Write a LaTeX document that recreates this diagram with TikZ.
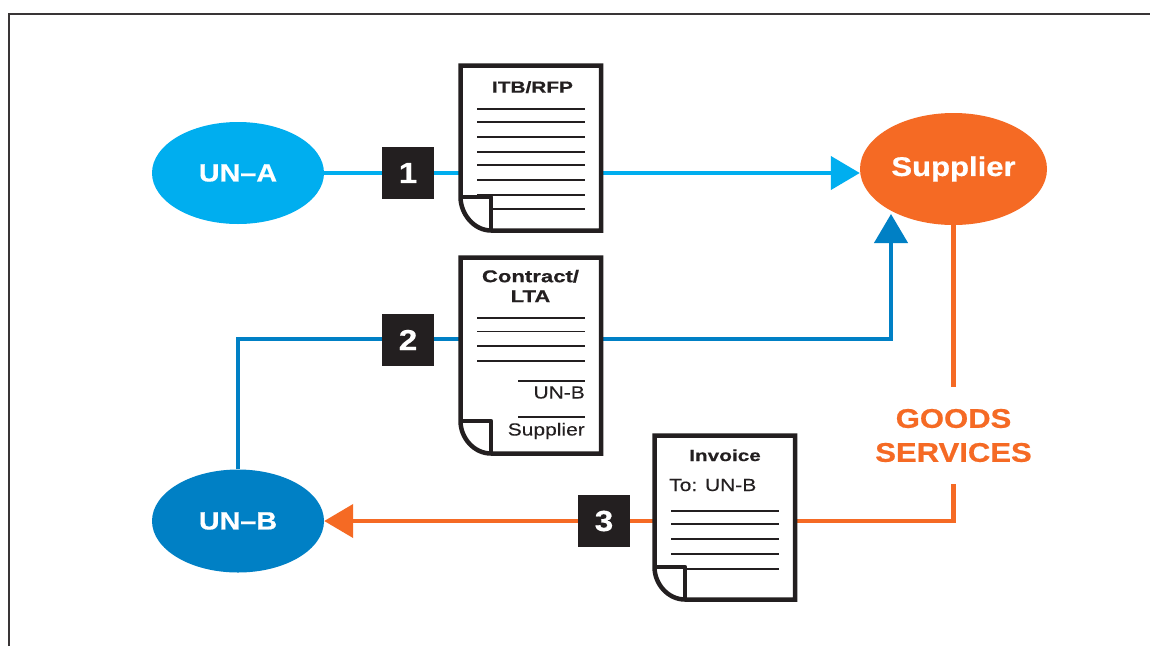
\documentclass[tikz,border=0pt]{standalone}
\usepackage{fontspec}
\setmainfont{Liberation Sans}
\newfontfamily\heavy[FakeStretch=1.15,FakeBold=0.6]{Liberation Sans}
\newfontfamily\wideb[FakeStretch=1.3,FakeBold=0.5]{Liberation Sans}
\newfontfamily\wider[FakeStretch=1.2,FakeBold=0.1]{Liberation Sans}
\usetikzlibrary{shapes.geometric,arrows.meta,backgrounds}
\definecolor{cyanA}{HTML}{00AEEF}
\definecolor{blueB}{HTML}{0080C5}
\definecolor{orangeS}{HTML}{F56A24}
\definecolor{inkK}{HTML}{231F20}
\tikzset{
  x=1pt,y=-1pt,
  party/.style={ellipse,inner sep=0pt,text=white,font=\heavy\bfseries\fontsize{25}{30}\selectfont},
  numbox/.style={fill=inkK,text=white,minimum size=52pt,inner sep=0pt,font=\heavy\bfseries\fontsize{29}{32}\selectfont},
  docnode/.style={rectangle,inner sep=0pt},
  docbody/.style={draw=inkK,fill=white,line width=4.5pt,miter limit=10},
  docfold/.style={draw=inkK,line width=4.5pt,line join=round},
  rule/.style={draw=inkK,line width=1.7pt},
  doctitle/.style={text=inkK,inner sep=0pt,align=center,font=\wideb\bfseries\fontsize{16}{20}\selectfont},
  docplain/.style={text=inkK,inner sep=0pt,font=\wider\fontsize{17.5}{20}\selectfont},
  wire/.style={line width=4.3pt},
  tipH/.style={-{Triangle[length=29pt,width=33pt]}},
  goods/.style={text=orangeS,inner sep=0pt,align=center,minimum height=97pt,font=\heavy\bfseries\fontsize{27}{34}\selectfont}
}
\newcommand{\docpaper}[6]{% l t r b foldx foldy
  \path[docbody] (#1,#2) -- (#3,#2) -- (#3,#4) -- (#5,#4)
    .. controls ({#5-17},#4) and (#1,{#6+17}) .. (#1,#6) -- cycle;
  \path[docfold] (#1,#6) -- (#5,#6) -- (#5,#4);
}
\begin{document}
\begin{tikzpicture}
\useasboundingbox (0,0) rectangle (1150,646);
\begin{pgfonlayer}{background}
\fill[white] (0,0) rectangle (1150,646);
\end{pgfonlayer}
\draw[inkK!90,line width=1.5pt] (9,646) -- (9,14) -- (1150,14);

% parties
\node[party,fill=cyanA,minimum width=172pt,minimum height=102pt] (unA) at (238,173) {UN–A};
\node[party,fill=blueB,minimum width=172pt,minimum height=103pt] (unB) at (238,521) {UN–B};
\node[party,fill=orangeS,minimum width=187pt,minimum height=112pt,font=\heavy\bfseries\fontsize{27}{30}\selectfont] (sup) at (953.5,169) {\raisebox{-1.5pt}{Supplier}};
\node[goods] (gs) at (953.5,435.5) {GOODS\\SERVICES};

% number boxes
\node[numbox] (n1) at (408,173) {1};
\node[numbox] (n2) at (408,340) {2};
\node[numbox] (n3) at (604,521) {3};

% documents
\node[docnode,minimum width=145pt,minimum height=170pt] (docA) at (530.5,148) {};
\node[docnode,minimum width=145pt,minimum height=201pt] (docB) at (530.5,355.5) {};
\node[docnode,minimum width=145pt,minimum height=169pt] (docC) at (724.5,517.5) {};

\docpaper{460.5}{65.5}{601}{230.5}{491}{197}
\foreach \yy in {109,122,137,152,165,180,195} \draw[rule] (477,\yy) -- (585,\yy);
\draw[rule] (491,209) -- (585,209);
\node[doctitle,anchor=base] (tA) at (532.5,92.7) {ITB/RFP};

\docpaper{460.5}{257.5}{601}{453.5}{491}{421}
\foreach \yy in {318,331.5,346,361} \draw[rule] (477,\yy) -- (585,\yy);
\draw[rule] (518,381) -- (585,381);
\draw[rule] (518,417) -- (585,417);
\node[doctitle,font=\wideb\bfseries\fontsize{17}{20}\selectfont] (tB) at (530.5,286) {Contract/\\LTA};
\node[docplain,anchor=base east] (sgB) at (585,398.5) {UN-B};
\node[docplain,anchor=base east] (sgS) at (585,435.5) {Supplier};

\docpaper{654.5}{435.5}{795}{599.5}{685}{567}
\foreach \yy in {511,524,539,554} \draw[rule] (671,\yy) -- (779,\yy);
\draw[rule] (685,569) -- (779,569);
\node[doctitle,anchor=base] (tC) at (725,461) {Invoice};
\node[docplain,anchor=base west] (toC) at (669,491) {To: UN-B};

% connectors
\coordinate (elbow) at (891,339);
\coordinate (tipB) at (891,214);
\begin{pgfonlayer}{background}
\draw[wire,cyanA,tipH] (unA.east) -- (unA.east -| sup.west);
\draw[wire,blueB,tipH] (unB.north) |- (elbow) -- (tipB);
\draw[wire,orangeS] (sup.south) -- (gs.north);
\draw[wire,orangeS,tipH] (gs.south) |- (unB.east);
\end{pgfonlayer}
\end{tikzpicture}
\end{document}
